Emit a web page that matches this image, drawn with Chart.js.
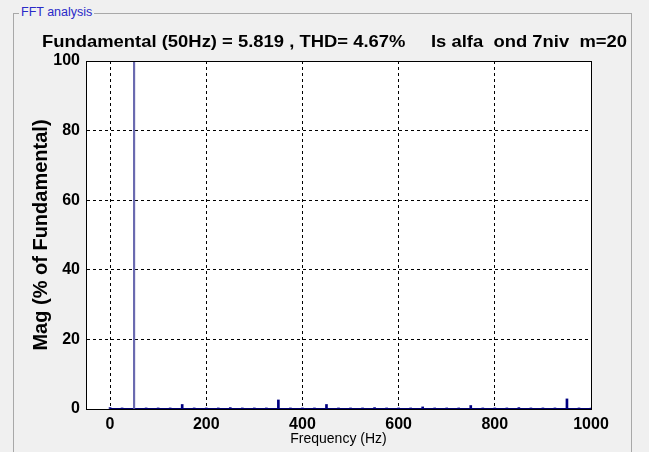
<!DOCTYPE html>
<html>
<head>
<meta charset="utf-8">
<script src="https://cdn.jsdelivr.net/npm/chart.js@4/dist/chart.umd.min.js"></script>
<style>
  html, body { margin: 0; padding: 0; background: #f0f0f0; width: 649px; height: 452px; overflow: hidden; }
  #box { position: absolute; left: 13px; top: 13px; width: 619px; height: 460px; border: 1px solid #a8a8a8; box-sizing: border-box; }
  #boxlabel { position: absolute; left: 19px; top: 5px; padding: 0 2px; background: #f0f0f0; color: #2a2ac8; font: 12.5px "Liberation Sans", Arial, sans-serif; line-height: 15px; }
  #wrap { position: absolute; left: 0; top: 0; width: 649px; height: 452px; }
</style>
</head>
<body>
<div id="box"></div>
<div id="boxlabel">FFT analysis</div>
<div id="wrap"><canvas id="c" width="649" height="452"></canvas></div>
<script>
// Frequencies (Hz) of the spectrum bars and their magnitude (% of fundamental)
const harmonicFreqs = [0, 25, 75, 100, 125, 150, 175, 200, 225, 250, 275, 300, 325, 350, 375, 400, 425, 450, 475, 500,
                       525, 550, 575, 600, 625, 650, 675, 700, 725, 750, 775, 800, 825, 850, 875, 900, 925, 950, 975, 1000];
const harmonicMags  = [0.4, 0.3, 0.3, 0.3, 0.3, 1.3, 0.3, 0.3, 0.3, 0.4, 0.3, 0.3, 0.3, 2.6, 0.3, 0.3, 0.3, 1.3, 0.3, 0.3,
                       0.3, 0.4, 0.3, 0.3, 0.3, 0.6, 0.3, 0.3, 0.3, 1.0, 0.3, 0.3, 0.3, 0.4, 0.3, 0.3, 0.3, 2.9, 0.3, 0.3];
const fundamentalFreq = [50];
const fundamentalMag  = [100];
const baselineFreqs = [0, 1000];
const baselineMags  = [0, 0];
const xTicks = [0, 200, 400, 600, 800, 1000];
const yTicks = [0, 20, 40, 60, 80, 100];
const titleText = "Fundamental (50Hz) = 5.819 , THD= 4.67%     Is alfa  ond 7niv  m=20";

const FONT = '"Liberation Sans", Arial, sans-serif';

const bgPlugin = {
  id: 'bg',
  beforeDraw(chart) {
    const {ctx, chartArea: a} = chart;
    ctx.save();
    ctx.fillStyle = '#ffffff';
    ctx.fillRect(a.left, a.top, a.right - a.left, a.bottom - a.top);
    ctx.restore();
  },
  afterDraw(chart) {
    const {ctx, chartArea: a} = chart;
    ctx.save();
    ctx.strokeStyle = '#000000';
    ctx.lineWidth = 1;
    ctx.strokeRect(Math.round(a.left) + 0.5, Math.round(a.top) + 0.5, Math.round(a.right - a.left), Math.round(a.bottom - a.top));
    // main title
    ctx.fillStyle = '#000000';
    ctx.font = 'bold 17px ' + FONT;
    ctx.textBaseline = 'alphabetic';
    ctx.textAlign = 'left';
    const w = ctx.measureText(titleText).width;
    const target = 585;
    ctx.translate(42, 47);
    ctx.scale(target / w, 1);
    ctx.fillText(titleText, 0, 0);
    ctx.restore();
  }
};

new Chart(document.getElementById('c'), {
  type: 'bar',
  data: {
    datasets: [
      {
        type: 'line',
        data: baselineFreqs.map((f, i) => ({x: f, y: baselineMags[i]})),
        borderColor: '#000070',
        borderWidth: 2,
        pointRadius: 0,
        order: 3
      },
      {
        data: harmonicFreqs.map((f, i) => ({x: f, y: harmonicMags[i]})),
        backgroundColor: '#000080',
        barThickness: 2,
        grouped: false,
        order: 2
      },
      {
        data: fundamentalFreq.map((f, i) => ({x: f, y: fundamentalMag[i]})),
        backgroundColor: '#6a6ab0',
        barThickness: 1.5,
        grouped: false,
        order: 1
      }
    ]
  },
  options: {
    responsive: false,
    animation: false,
    layout: { padding: { left: 0, top: 61, right: 58, bottom: 0 } },
    plugins: { legend: { display: false }, tooltip: { enabled: false }, title: { display: false } },
    scales: {
      x: {
        type: 'linear',
        min: -50,
        max: 1000,
        offset: false,
        afterBuildTicks(scale) { scale.ticks = xTicks.map(v => ({value: v})); },
        afterFit(scale) { scale.height = 43; },
        grid: {
          offset: false,
          color: ctx => (ctx.tick && (ctx.tick.value === 1000)) ? 'rgba(0,0,0,0)' : '#000000',
          lineWidth: 1,
          drawTicks: false
        },
        border: { display: true, color: '#000000', dash: [3, 3] },
        ticks: { color: '#000000', font: { family: FONT, size: 16, weight: 'bold' }, padding: 6, maxRotation: 0,
                 callback: v => String(v) },
        title: { display: true, text: 'Frequency (Hz)', color: '#000000', font: { family: FONT, size: 14 }, padding: { top: 0, bottom: 4 } }
      },
      y: {
        min: 0,
        max: 100,
        afterBuildTicks(scale) { scale.ticks = yTicks.map(v => ({value: v})); },
        afterFit(scale) { scale.width = 86; },
        grid: {
          color: ctx => (ctx.tick && (ctx.tick.value === 0 || ctx.tick.value === 100)) ? 'rgba(0,0,0,0)' : '#000000',
          lineWidth: 1,
          drawTicks: false
        },
        border: { display: true, color: '#000000', dash: [3, 3] },
        ticks: { color: '#000000', font: { family: FONT, size: 16, weight: 'bold' }, padding: 6,
                 callback: v => String(v) },
        title: { display: true, text: 'Mag (% of Fundamental)', color: '#000000', font: { family: FONT, size: 20, weight: 'bold' }, padding: { top: 29, bottom: 0 } }
      }
    }
  },
  plugins: [bgPlugin]
});
</script>
</body>
</html>
